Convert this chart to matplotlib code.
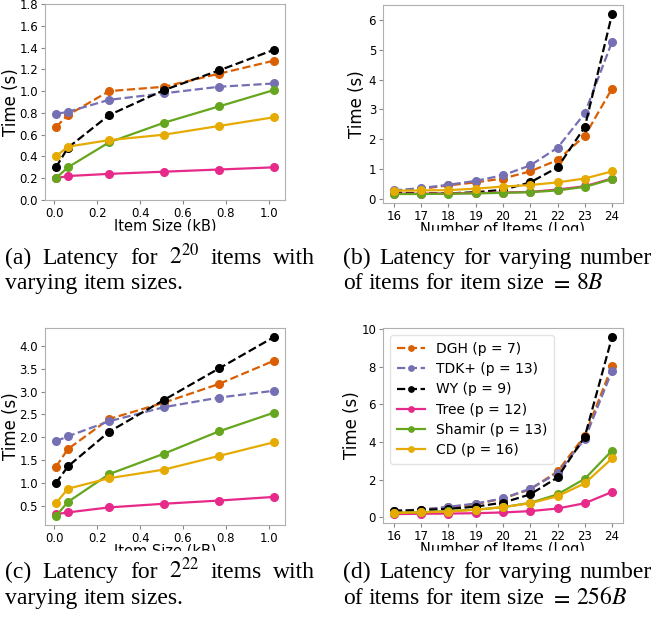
import matplotlib
matplotlib.use("Agg")
import matplotlib.pyplot as plt
from matplotlib.patches import Rectangle
from matplotlib.ticker import MultipleLocator

# Item sizes in kB (8B .. 1024B) and log2 number of items
item_sizes = [0.008, 0.064, 0.256, 0.512, 0.768, 1.024]
num_items_log = [16, 17, 18, 19, 20, 21, 22, 23, 24]

schemes = ["DGH (p = 7)", "TDK+ (p = 13)", "WY (p = 9)",
           "Tree (p = 12)", "Shamir (p = 13)", "CD (p = 16)"]
colors = ["#d95f02", "#7570b3", "#000000", "#e7298a", "#66a61e", "#e6ab02"]
styles = ["--", "--", "--", "-", "-", "-"]

# (a) 2^20 items, varying item size
a_dgh = [0.67, 0.78, 1.00, 1.04, 1.16, 1.28]
a_tdk = [0.79, 0.81, 0.92, 0.98, 1.04, 1.07]
a_wy = [0.30, 0.48, 0.78, 1.01, 1.19, 1.38]
a_tree = [0.20, 0.22, 0.24, 0.26, 0.28, 0.30]
a_shamir = [0.20, 0.30, 0.53, 0.71, 0.86, 1.01]
a_cd = [0.40, 0.49, 0.55, 0.60, 0.68, 0.76]

# (b) item size 8B, varying number of items
b_dgh = [0.27, 0.33, 0.45, 0.55, 0.68, 0.92, 1.30, 2.11, 3.70]
b_tdk = [0.28, 0.36, 0.47, 0.60, 0.79, 1.12, 1.71, 2.87, 5.27]
b_wy = [0.20, 0.19, 0.18, 0.22, 0.30, 0.55, 1.05, 2.41, 6.20]
b_tree = [0.17, 0.17, 0.18, 0.19, 0.21, 0.23, 0.31, 0.42, 0.68]
b_shamir = [0.16, 0.16, 0.17, 0.18, 0.20, 0.22, 0.28, 0.40, 0.66]
b_cd = [0.27, 0.28, 0.29, 0.34, 0.41, 0.46, 0.55, 0.68, 0.92]

# (c) 2^22 items, varying item size
c_dgh = [1.35, 1.74, 2.40, 2.76, 3.17, 3.68]
c_tdk = [1.91, 2.02, 2.35, 2.66, 2.87, 3.02]
c_wy = [0.99, 1.36, 2.12, 2.82, 3.51, 4.20]
c_tree = [0.31, 0.35, 0.46, 0.54, 0.61, 0.69]
c_shamir = [0.27, 0.58, 1.19, 1.64, 2.13, 2.54]
c_cd = [0.55, 0.87, 1.10, 1.29, 1.59, 1.89]

# (d) item size 256B, varying number of items
d_dgh = [0.33, 0.40, 0.53, 0.69, 0.99, 1.48, 2.43, 4.33, 8.03]
d_tdk = [0.33, 0.40, 0.55, 0.72, 1.00, 1.51, 2.34, 4.15, 7.78]
d_wy = [0.33, 0.38, 0.44, 0.56, 0.77, 1.21, 2.11, 4.28, 9.58]
d_tree = [0.16, 0.18, 0.19, 0.21, 0.25, 0.32, 0.46, 0.74, 1.34]
d_shamir = [0.23, 0.26, 0.32, 0.40, 0.53, 0.76, 1.21, 2.04, 3.54]
d_cd = [0.23, 0.25, 0.30, 0.39, 0.53, 0.74, 1.11, 1.80, 3.12]

W, H = 655, 623
plt.rcParams["mathtext.fontset"] = "stix"
fig = plt.figure(figsize=(W / 100, H / 100), dpi=100)


def px_axes(left, top, right, bottom):
    return fig.add_axes([left / W, 1 - bottom / H, (right - left) / W, (bottom - top) / H])


def draw(ax, x, series, xlabel, ylabel_x, xticks=None, ystep=None, legend=False):
    for y, lab, c, ls in zip(series, schemes, colors, styles):
        ax.plot(x, y, ls, color=c, marker="o", markersize=5.5, linewidth=1.6, label=lab)
    for sp in ax.spines.values():
        sp.set_color("#b0b0b0")
    ax.tick_params(labelsize=8.5, color="#888888", length=3, pad=2)
    if xticks is not None:
        ax.set_xticks(xticks)
    if ystep is not None:
        ax.yaxis.set_major_locator(MultipleLocator(ystep))
    ax.set_xlabel(xlabel, fontsize=10.5, labelpad=-1)
    ax.set_ylabel("Time (s)", fontsize=12)
    ax.yaxis.set_label_coords(ylabel_x, 0.5)
    if legend:
        ax.legend(loc="upper left", fontsize=10, edgecolor="#dddddd", markerscale=0.7,
                  handlelength=2.0, labelspacing=0.45, borderpad=0.5)


ax_a = px_axes(45, 4, 285, 200)
draw(ax_a, item_sizes, [a_dgh, a_tdk, a_wy, a_tree, a_shamir, a_cd], "Item Size (kB)",
     -0.105, ystep=0.2)
ax_a.set_ylim(0, 1.8)

ax_b = px_axes(383, 5, 623, 203)
draw(ax_b, num_items_log, [b_dgh, b_tdk, b_wy, b_tree, b_shamir, b_cd],
     "Number of Items (Log)", -0.07, xticks=num_items_log)

ax_c = px_axes(45, 328, 285, 525)
draw(ax_c, item_sizes, [c_dgh, c_tdk, c_wy, c_tree, c_shamir, c_cd], "Item Size (kB)",
     -0.105, ystep=0.5)

ax_d = px_axes(383, 328, 623, 523)
draw(ax_d, num_items_log, [d_dgh, d_tdk, d_wy, d_tree, d_shamir, d_cd],
     "Number of Items (Log)", -0.09, xticks=num_items_log, legend=True)

# white bands: the sub-figure images are cut just under the x labels
for top, bot in [(231, 242), (551, 560)]:
    fig.patches.append(Rectangle((0, 1 - bot / H), 1, (bot - top) / H,
                                 transform=fig.transFigure, color="white", zorder=5))

cap_font = dict(family="Liberation Serif", fontsize=17, zorder=6)
renderer = fig.canvas.get_renderer()


def caption_line(words, x0, x1, y, justify):
    texts = [fig.text(x0 / W, 1 - y / H, w, va="baseline", ha="left", **cap_font) for w in words]
    widths = [t.get_window_extent(renderer).width for t in texts]
    space = 0.25 * cap_font["fontsize"] * 100 / 72
    gap = space
    if justify and len(words) > 1:
        gap = max(space, (x1 - x0 - sum(widths)) / (len(words) - 1))
    x = x0
    for t, w in zip(texts, widths):
        t.set_x(x / W)
        x += w + gap


caption_line(["(a)", "Latency", "for", r"$2^{20}$", "items", "with"], 5, 315, 264, True)
caption_line(["varying", "item", "sizes."], 5, 315, 289, False)
caption_line(["(b)", "Latency", "for", "varying", "number"], 343, 652, 264, True)
caption_line(["of", "items", "for", "item", "size", r"$=$", r"$8B$"], 343, 652, 289, False)
caption_line(["(c)", "Latency", "for", r"$2^{22}$", "items", "with"], 5, 315, 578, True)
caption_line(["varying", "item", "sizes."], 5, 315, 604, False)
caption_line(["(d)", "Latency", "for", "varying", "number"], 343, 652, 578, True)
caption_line(["of", "items", "for", "item", "size", r"$=$", r"$256B$"], 343, 652, 604, False)

fig.savefig("out.png", dpi=100)
